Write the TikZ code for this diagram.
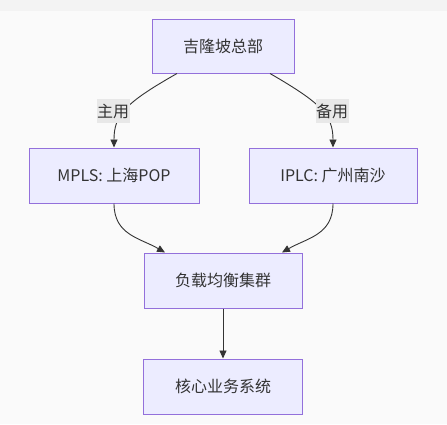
\documentclass[tikz,border=0pt]{standalone}
\usepackage{fontspec}
\setmainfont{Noto Sans CJK SC}
\usetikzlibrary{arrows.meta}
\definecolor{boxfill}{HTML}{ECECFF}
\definecolor{boxline}{HTML}{9370DB}
\definecolor{edgec}{HTML}{333333}
\definecolor{textc}{HTML}{333333}
\definecolor{labelbg}{HTML}{E8E8E8}
\definecolor{bgmain}{HTML}{FAFAFA}
\definecolor{bgtop}{HTML}{F3F3F3}
\begin{document}
\begin{tikzpicture}[x=1pt,y=-1pt,
  box/.style={draw=boxline, fill=boxfill, line width=1pt, inner sep=0pt,
    font=\fontsize{16}{19}\selectfont, text=textc},
  elabel/.style={fill=labelbg, inner sep=0pt, minimum width=33, minimum height=24,
    font=\fontsize{16}{19}\selectfont, text=textc},
  conn/.style={draw=edgec, line width=0.9pt, -{Triangle[length=8pt,width=7pt]}}]
\useasboundingbox (0,0) rectangle (447,424);
\fill[bgmain] (0,0) rectangle (447,424);
\fill[bgtop] (0,0) rectangle (447,11);
\node[box, minimum width=142, minimum height=54] (hq) at (223,46) {吉隆坡总部};
\node[box, minimum width=170, minimum height=55] (mpls) at (114,175.5) {MPLS: 上海POP};
\node[box, minimum width=168, minimum height=55] (iplc) at (333,175.5) {IPLC: 广州南沙};
\node[box, minimum width=158, minimum height=55] (lb) at (223,280.5) {负载均衡集群};
\node[box, minimum width=159, minimum height=55] (core) at (223,386.5) {核心业务系统};
\draw[conn] ([xshift=-46pt]hq.south) .. controls (125,103) and (114,115) .. (mpls.north);
\draw[conn] ([xshift=47pt]hq.south) .. controls (321,103) and (333,115) .. (iplc.north);
\node[elabel] (l1) at (113,111) {主用};
\node[elabel] (l2) at (332,111) {备用};
\draw[conn] (mpls.south) .. controls (114,235) and (140,238) .. ([xshift=-58pt]lb.north);
\draw[conn] (iplc.south) .. controls (333,235) and (307,238) .. ([xshift=59pt]lb.north);
\draw[conn] (lb.south) -- (core.north);
\end{tikzpicture}
\end{document}
